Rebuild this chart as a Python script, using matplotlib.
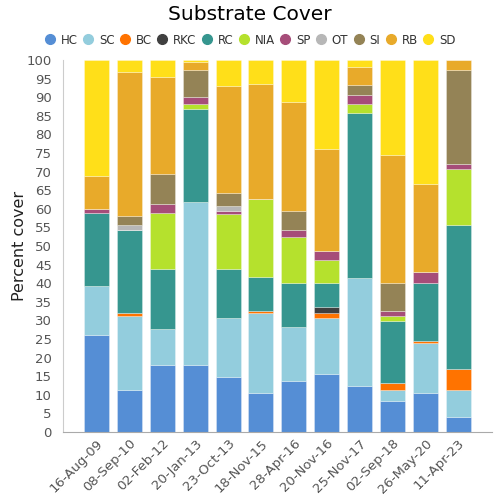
import matplotlib
matplotlib.use("Agg")
import matplotlib.pyplot as plt
import numpy as np

dates = ["16-Aug-09", "08-Sep-10", "02-Feb-12", "20-Jan-13", "23-Oct-13", "18-Nov-15",
         "28-Apr-16", "20-Nov-16", "25-Nov-17", "02-Sep-18", "26-May-20", "11-Apr-23"]
categories = ["HC", "SC", "BC", "RKC", "RC", "NIA", "SP", "OT", "SI", "RB", "SD"]
colors = ["#558ed5", "#93cddd", "#ff7300", "#404040", "#36968f", "#b5e12d",
          "#a64d79", "#b7b7b7", "#948356", "#e8aa2a", "#ffdf19"]

HC  = [26.2, 11.3, 18.0, 18.0, 14.9, 10.6, 13.7, 15.6, 12.4, 8.2, 10.6, 3.9]
SC  = [13.1, 20.0, 9.6, 43.9, 15.7, 21.3, 14.4, 15.0, 28.9, 3.1, 13.2, 7.4]
BC  = [0.0, 0.6, 0.0, 0.0, 0.0, 0.5, 0.0, 1.3, 0.0, 1.8, 0.7, 5.6]
RKC = [0.0, 0.0, 0.0, 0.0, 0.0, 0.0, 0.0, 1.8, 0.0, 0.0, 0.0, 0.0]
RC  = [19.5, 22.4, 16.1, 25.0, 13.1, 9.4, 11.9, 6.3, 44.4, 16.8, 15.5, 38.7]
NIA = [0.0, 0.0, 15.1, 1.2, 15.0, 20.8, 12.5, 6.2, 2.5, 1.4, 0.0, 15.0]
SP  = [1.2, 0.0, 2.4, 1.9, 0.7, 0.0, 1.9, 2.5, 2.5, 1.2, 3.1, 1.4]
OT  = [0.0, 1.3, 0.0, 0.0, 1.4, 0.0, 0.0, 0.0, 0.0, 0.0, 0.0, 0.0]
SI  = [0.0, 2.5, 8.2, 7.4, 3.5, 0.0, 5.0, 0.0, 2.5, 7.5, 0.0, 25.4]
RB  = [8.8, 38.8, 26.1, 2.0, 28.8, 31.0, 29.4, 27.5, 5.0, 34.5, 23.7, 2.6]
SD  = [31.2, 3.1, 4.5, 0.6, 6.9, 6.4, 11.2, 23.8, 1.8, 25.5, 33.2, 0.0]

series = [HC, SC, BC, RKC, RC, NIA, SP, OT, SI, RB, SD]

fig = plt.figure(figsize=(5, 5), dpi=100)
ax = fig.add_axes([0.126, 0.136, 0.858, 0.744])

x = np.arange(len(dates))
bottom = np.zeros(len(dates))
for name, vals, c in zip(categories, series, colors):
    v = np.array(vals)
    ax.bar(x, v, width=0.76, bottom=bottom, color=c, edgecolor=(1, 1, 1, 0.35),
           linewidth=0.6, label=name)
    bottom += v

ax.set_xlim(-1.02, 12.03)
ax.set_ylim(0, 100)
ax.set_yticks(np.arange(0, 101, 5))
ax.set_xticks(x)
ax.set_xticklabels(dates, rotation=45, ha="right", rotation_mode="anchor")
ax.tick_params(axis="both", colors="#555555", labelsize=9.5, length=0)
ax.tick_params(axis="y", pad=8)
for s in ["top", "right"]:
    ax.spines[s].set_visible(False)
ax.spines["left"].set_color("#cccccc")
ax.spines["bottom"].set_color("#aaaaaa")
ax.set_ylabel("Percent cover", fontsize=11.5, color="#222222")
ax.yaxis.set_label_coords(-0.085, 0.5)

fig.suptitle("Substrate Cover", y=0.99, fontsize=14.5, va="top")

from matplotlib.lines import Line2D
handles = [Line2D([0], [0], marker="o", linestyle="", markersize=7,
                  markerfacecolor=c, markeredgecolor=c) for c in colors]
fig.legend(handles, categories, loc="center", bbox_to_anchor=(0.5, 0.92), ncol=11,
           frameon=False, fontsize=8.5, handletextpad=0.45, columnspacing=0.45,
           handlelength=0.9, labelcolor="#333333")

fig.savefig("out.png", dpi=100)
